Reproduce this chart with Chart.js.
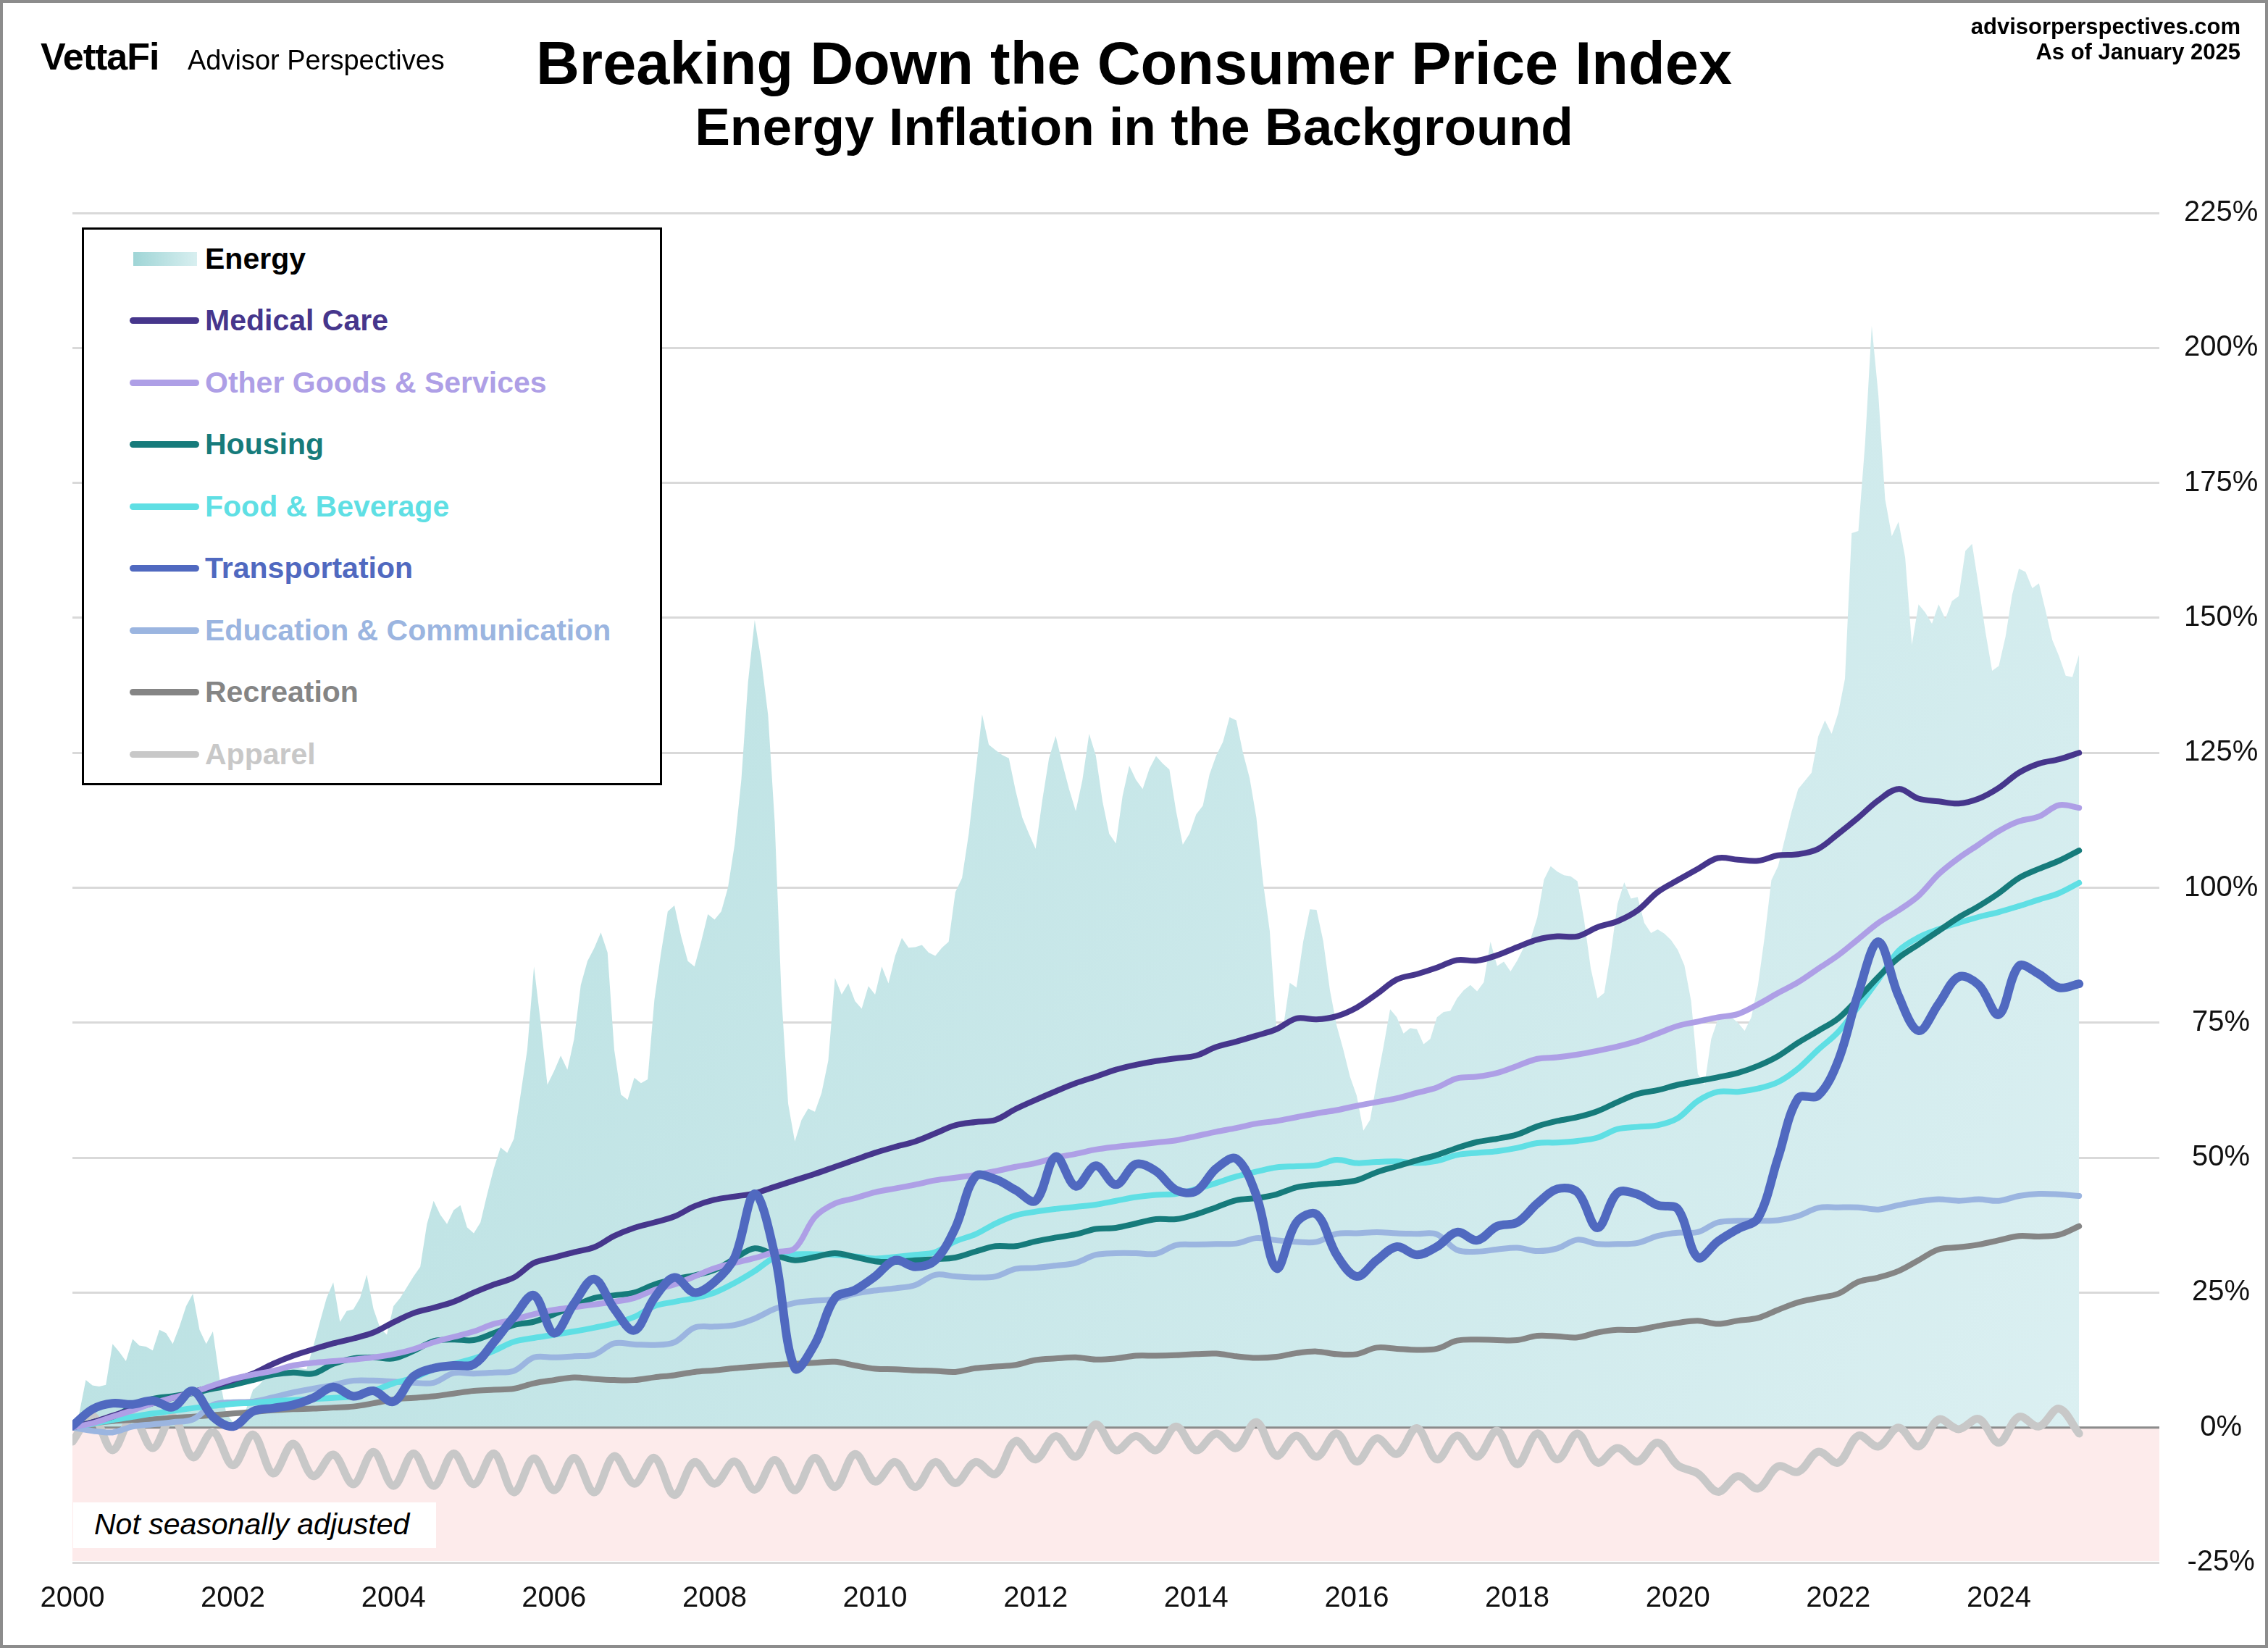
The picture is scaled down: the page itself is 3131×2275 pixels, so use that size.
<!DOCTYPE html>
<html>
<head>
<meta charset="utf-8">
<title>Breaking Down the Consumer Price Index</title>
<script src="https://cdn.jsdelivr.net/npm/chart.js@4.4.1/dist/chart.umd.min.js"></script>
<style>
  body { margin: 0; background: #fff; font-family: "Liberation Sans", Arial, sans-serif; color: #000; }
  #page { position: relative; width: 3131px; height: 2275px; overflow: hidden; background: #fff; }
  #cpiChart { position: absolute; left: 0; top: 0; }
  .abs { position: absolute; white-space: nowrap; line-height: 1; }
  .frame { position: absolute; left: 0; top: 0; right: 0; bottom: 0; border: 4px solid #8c8c8c; pointer-events: none; }
  .logo { left: 56px; top: 52px; font-size: 52px; font-weight: bold; letter-spacing: -1px; }
  .brand { left: 259px; top: 64px; font-size: 38px; }
  .title { left: 0; width: 3131px; text-align: center; top: 46px; font-size: 83px; font-weight: bold; }
  .subtitle { left: 0; width: 3131px; text-align: center; top: 138px; font-size: 73px; font-weight: bold; }
  .site { right: 38px; font-size: 31px; font-weight: bold; text-align: right; }
  #legendBox { position: absolute; left: 113px; top: 314px; width: 801px; height: 770px; border: 3px solid #000; box-sizing: border-box; background: #fff; }
  .legend-row { position: absolute; left: 179px; height: 41px; }
  .legend-line { position: absolute; left: 0; top: 16px; width: 96px; height: 9px; border-radius: 5px; }
  .legend-area { position: absolute; left: 5px; top: 11px; width: 88px; height: 19px; background: linear-gradient(to right, #9fd5d6, #d8eff0); }
  .legend-text { position: absolute; left: 104px; top: 0; font-size: 41px; font-weight: bold; line-height: 41px; white-space: nowrap; }
  .nsa { position: absolute; left: 101px; top: 2074px; width: 501px; height: 63px; background: #fff; }
  .nsa span { position: absolute; left: 29px; top: 10px; font-size: 41px; font-style: italic; line-height: 1; white-space: nowrap; }
</style>
</head>
<body>
<div id="page">
  <canvas id="cpiChart" width="3131" height="2275"></canvas>
  <div class="abs logo">VettaFi</div>
  <div class="abs brand">Advisor Perspectives</div>
  <div class="abs title">Breaking Down the Consumer Price Index</div>
  <div class="abs subtitle">Energy Inflation in the Background</div>
  <div class="abs site" style="top:21px">advisorperspectives.com</div>
  <div class="abs site" style="top:56px">As of January 2025</div>
  <div id="legendBox"></div>
  <div class="nsa"><span>Not seasonally adjusted</span></div>
  <div class="frame"></div>
</div>

<script>
// ================= DATA =================
// cumulative change since Jan 2000, in %
// energy is monthly (Jan 2000 .. Jan 2025), the other series quarterly
const START_YEAR = 2000;

const energy = [
  0.6, 2.5, 8.8, 7.8, 7.6, 7.9, 15.5, 14.0, 12.3, 16.4, 15.2, 15.0,
  14.3, 18.1, 17.5, 15.5, 18.7, 22.5, 24.8, 18.1, 15.5, 17.8, 9.1, 2.6,
  1.0, 1.5, 3.5, 7.0, 8.0, 9.5, 10.5, 9.5, 10.5, 11.4, 11.0, 10.8,
  15.0, 19.6, 24.0, 26.9, 19.6, 21.6, 21.9, 24.0, 28.3, 22.0, 18.4, 17.2,
  22.5, 24.0, 26.0, 28.0, 29.8, 37.7, 42.0, 39.4, 37.7, 40.3, 41.2, 37.1,
  36.0, 38.0, 43.2, 48.0, 51.9, 50.9, 53.5, 61.7, 70.0, 85.4, 75.0, 63.5,
  66.0, 68.9, 66.3, 72.0, 82.0, 86.4, 88.8, 91.7, 88.0, 70.0, 61.7, 60.7,
  64.8, 63.8, 64.5, 79.2, 88.0, 95.6, 96.7, 91.0, 86.4, 85.4, 90.0, 95.1,
  94.1, 95.6, 100.0, 108.0, 120.0, 138.0, 149.6, 142.0, 132.0, 112.0, 80.0, 60.0,
  53.0, 57.0, 59.1, 58.5, 62.0, 68.0, 83.3, 80.2, 82.3, 79.0, 77.6, 81.8,
  80.2, 85.4, 82.3, 87.4, 90.7, 88.9, 89.0, 89.4, 88.0, 87.4, 88.9, 90.0,
  99.2, 101.8, 110.0, 121.0, 132.1, 126.5, 125.5, 124.6, 124.0, 118.0, 113.0, 110.0,
  107.2, 116.2, 124.0, 128.1, 123.0, 118.3, 114.2, 120.0, 128.5, 124.5, 116.0, 110.0,
  108.2, 117.0, 122.6, 120.0, 118.3, 122.0, 124.4, 123.0, 121.9, 114.2, 108.0, 110.0,
  113.6, 115.2, 121.0, 124.5, 127.0, 131.6, 131.0, 125.0, 120.3, 113.0, 101.0, 92.0,
  74.0, 74.0, 82.4, 81.5, 90.0, 96.0, 95.9, 90.1, 81.0, 74.5, 70.0, 65.0,
  61.5, 55.0, 57.0, 64.0, 70.5, 77.5, 76.0, 73.0, 74.0, 73.8, 71.0, 72.0,
  76.0, 77.0, 77.2, 79.5, 81.0, 82.0, 80.8, 82.5, 90.0, 85.5, 86.3, 84.5,
  86.5, 89.0, 90.5, 94.5, 101.5, 104.0, 103.0, 102.3, 102.1, 101.2, 94.0, 85.0,
  79.5, 80.5, 88.0, 97.0, 101.0, 98.0, 98.3, 93.5, 91.6, 92.3, 91.5, 90.3,
  88.5, 85.6, 79.0, 65.5, 63.5, 72.0, 75.6, 76.1, 76.0, 75.0, 73.5, 76.0,
  82.0, 91.0, 101.4, 104.0, 109.0, 114.0, 118.3, 119.8, 121.3, 128.0, 131.0, 128.5,
  132.4, 138.7, 165.7, 166.1, 182.2, 204.1, 191.2, 172.0, 165.1, 167.8, 161.2, 145.0,
  152.5, 151.0, 148.9, 152.5, 149.8, 153.1, 154.0, 162.4, 163.7, 155.8, 147.4, 140.2,
  141.1, 146.5, 154.3, 159.1, 158.5, 155.5, 156.4, 151.3, 145.9, 142.9, 139.3, 139.0,
  143.2
];

const medicalCare = [
  0, 1.0, 2.2, 3.4,  4.5, 5.5, 6.6, 7.6,  8.8, 10.0, 11.8, 13.3,  14.5, 15.6, 16.5, 17.6,
  19.5, 21.2, 22.2, 23.3,  25.0, 26.5, 27.8, 30.5,  31.5, 32.5, 33.4, 35.5,  37.0, 38.0, 39.1, 41.0,
  42.2, 42.8, 43.4, 44.6,  45.8, 47.0, 48.3, 49.6,  50.9, 52.0, 53.0, 54.5,  56.0, 56.6, 57.0, 59.0,
  60.7, 62.3, 63.8, 65.0,  66.3, 67.2, 67.9, 68.4,  68.9, 70.5, 71.5, 72.6,  73.8, 75.8, 75.6, 76.2,
  77.8, 80.3, 83.0, 84.0,  85.2, 86.6, 86.5, 87.5,  89.0, 90.4, 91.0, 91.0,  92.7, 93.8, 95.8, 99.2,
  101.4, 103.5, 105.5, 105.2,  105.0, 106.0, 106.2, 107.2,  110.0, 113.0, 116.2, 118.3,
  116.5, 116.0, 115.6, 116.5,  118.5, 121.3, 123.0, 123.8,  125.0
];

const otherGoods = [
  0, 0.8, 2.0, 3.2,  4.5, 5.5, 6.5, 7.8,  9.0, 9.8, 10.5, 11.5,  12.0, 12.3, 12.6, 13.0,
  13.6, 14.5, 15.8, 16.8,  17.8, 19.2, 20.0, 21.0,  21.8, 22.3, 22.8, 23.3,  24.0, 25.5, 26.5, 28.0,
  29.5, 30.5, 31.4, 32.5,  33.2, 39.0, 41.5, 42.5,  43.6, 44.3, 45.0, 45.8,  46.3, 46.8, 47.5, 48.3,
  49.0, 50.0, 50.7, 51.5,  52.0, 52.4, 52.8, 53.2,  54.0, 54.8, 55.5, 56.3,  56.8, 57.5, 58.2, 58.8,
  59.6, 60.3, 61.0, 62.0,  63.0, 64.7, 65.0, 65.7,  67.0, 68.3, 68.6, 69.1,  69.8, 70.6, 71.6, 73.0,
  74.4, 75.2, 76.0, 76.6,  78.4, 80.5, 82.5, 85.0,  87.5, 90.5, 93.5, 95.8,
  98.5, 102.5, 105.5, 108.0,  110.5, 112.3, 113.2, 115.3,  114.8
];

const housing = [
  0, 1.0, 2.0, 3.8,  5.3, 5.8, 6.4, 7.2,  7.9, 8.8, 9.8, 10.2,  10.0, 11.8, 12.8, 13.0,
  12.8, 14.2, 16.0, 16.3,  16.2, 17.5, 19.0, 19.6,  21.0, 22.5, 24.0, 24.5,  25.0, 26.5, 27.5, 28.2,
  29.2, 31.3, 33.2, 32.0,  31.0, 31.6, 32.3, 31.6,  30.8, 30.7, 31.0, 31.2,  31.5, 32.6, 33.6, 33.6,
  34.5, 35.2, 35.8, 36.8,  37.0, 37.8, 38.6, 38.6,  39.5, 40.8, 42.1, 42.5,  43.2, 44.5, 45.0, 45.3,
  45.8, 47.3, 48.4, 49.5,  50.5, 51.8, 52.9, 53.5,  54.3, 55.8, 56.8, 57.5,  58.6, 60.3, 61.8, 62.5,
  63.5, 64.2, 64.9, 65.7,  67.0, 68.8, 71.3, 73.5,  75.8, 79.5, 83.5, 87.0,
  89.5, 92.0, 94.5, 96.6,  99.0, 101.8, 103.5, 105.0,  106.9
];

const foodBeverage = [
  0, 0.7, 1.4, 2.0,  2.6, 3.1, 3.6, 4.0,  4.4, 4.6, 4.9, 5.1,  5.3, 5.5, 5.8, 6.8,
  8.2, 9.2, 10.8, 11.8,  12.8, 14.2, 15.9, 16.6,  17.2, 17.8, 18.5, 19.3,  20.5, 22.5, 23.3, 24.0,
  25.0, 26.8, 29.0, 31.5,  32.1, 32.1, 32.0, 31.7,  31.3, 31.6, 32.0, 32.5,  34.5, 35.8, 37.8, 39.3,
  40.0, 40.5, 40.9, 41.3,  42.0, 42.7, 43.1, 43.3,  44.2, 45.3, 46.5, 47.4,  48.2, 48.4, 48.6, 49.6,
  49.0, 49.2, 49.3, 49.0,  49.4, 50.5, 50.9, 51.2,  51.8, 52.7, 52.8, 53.1,  53.7, 55.3, 55.7, 56.0,
  57.3, 60.5, 62.2, 62.2,  62.8, 64.0, 66.5, 70.0,  73.3, 78.0, 83.0, 88.3,
  90.8, 92.3, 93.5, 94.6,  95.5, 96.6, 97.8, 99.0,  100.9
];

const transportation = [
  0.3, 3.4, 4.5, 4.3,  5.0, 3.8, 6.8, 2.0,  0.2, 3.0, 3.6, 4.2,  5.5, 7.5, 5.8, 6.8,
  4.8, 9.5, 11.0, 11.5,  11.7, 15.8, 20.5, 24.5,  17.5, 23.0, 27.5, 22.0,  18.0, 24.0, 27.8, 25.0,
  27.0, 31.5, 43.3, 32.0,  11.0, 15.5, 24.0, 25.5,  28.0, 31.0, 29.8, 31.0,  37.0, 46.5, 46.0, 44.0,
  42.0, 50.2, 44.7, 48.5,  45.0, 48.8, 47.5, 44.0,  43.8, 48.0, 49.8, 43.0,  29.5, 38.0, 39.5, 32.0,
  28.0, 31.0, 33.5, 32.0,  33.5, 36.2, 34.7, 37.3,  38.0, 41.5, 44.2, 43.6,  37.0, 43.5, 43.2, 41.2,
  40.5, 31.5, 34.5, 36.8,  38.8, 50.0, 61.0, 61.5,  68.0, 80.5, 90.0, 80.0,
  73.5, 78.5, 83.5, 82.0,  76.5, 85.5, 84.0, 81.5,  82.2
];

const educationComm = [
  0, -0.6, -0.9, 0.2,  0.6, 1.0, 1.5, 4.2,  4.7, 4.8, 5.6, 6.5,  7.2, 7.9, 8.7, 8.7,
  8.5, 8.3, 8.3, 10.1,  10.0, 10.2, 10.5, 13.0,  13.0, 13.2, 13.5, 15.6,  15.4, 15.3, 15.8, 18.5,
  18.7, 19.0, 20.2, 22.0,  23.1, 23.5, 23.8, 24.8,  25.4, 25.8, 26.4, 28.3,  28.0, 27.8, 28.0, 29.4,
  29.6, 30.0, 30.5, 32.0,  32.3, 32.3, 32.2, 33.8,  33.9, 34.0, 34.1, 35.1,  34.7, 34.4, 34.4, 35.9,
  36.0, 36.2, 36.0, 35.9,  35.8, 32.9, 32.6, 33.0,  33.3, 32.7, 33.2, 34.8,  34.0, 34.0, 34.2, 35.5,
  36.1, 36.2, 38.0, 38.3,  38.3, 38.4, 39.2, 40.7,  40.8, 40.8, 40.4, 41.2,
  41.9, 42.3, 42.0, 42.3,  42.0, 42.9, 43.3, 43.2,  42.9
];

const recreation = [
  0.3, 0.8, 1.2, 1.4,  1.5, 1.8, 2.0, 2.3,  2.6, 2.9, 3.2, 3.4,  3.5, 3.7, 3.9, 4.5,
  5.2, 5.5, 5.8, 6.3,  6.8, 7.0, 7.2, 8.2,  8.8, 9.3, 9.0, 8.8,  8.8, 9.3, 9.7, 10.3,
  10.6, 11.0, 11.3, 11.6,  11.8, 12.0, 12.2, 11.5,  10.9, 10.8, 10.6, 10.5,  10.3, 11.0, 11.3, 11.6,
  12.5, 12.8, 13.0, 12.6,  12.8, 13.3, 13.3, 13.4,  13.6, 13.7, 13.2, 12.9,  13.1, 13.8, 14.1, 13.6,
  13.6, 14.8, 14.6, 14.4,  14.6, 16.1, 16.3, 16.2,  16.2, 17.0, 16.9, 16.7,  17.6, 18.1, 18.1, 18.8,
  19.4, 19.8, 19.2, 19.8,  20.3, 21.8, 23.2, 24.0,  24.8, 27.0, 27.8, 29.0,
  31.0, 33.0, 33.4, 33.9,  34.7, 35.5, 35.4, 35.7,  37.3
];

const apparel = [
  -2.6, 2.2, -4.2, 2.0,  -3.8, 2.0, -5.5, -0.8,  -7.0, -1.3, -8.5, -3.0,  -9.0, -5.0, -10.5, -4.5,
  -10.8, -4.8, -10.8, -4.8,  -10.5, -4.8, -12.0, -5.7,  -11.6, -5.6, -12.0, -5.3,  -10.4, -5.6, -12.5, -6.4,
  -10.4, -6.3, -11.5, -6.0,  -11.6, -5.6, -11.0, -4.9,  -10.0, -6.4, -11.0, -6.4,  -10.3, -6.4, -8.6, -2.5,
  -5.9, -1.6, -5.4, 0.6,  -4.2, -1.6, -4.2, 0.2,  -4.2, -1.1, -3.8, 1.0,  -5.2, -1.5, -5.4, -1.1,
  -6.3, -2.0, -4.9, -0.1,  -5.9, -1.5, -5.4, -0.6,  -6.8, -1.1, -5.9, -1.1,  -6.5, -3.8, -6.3, -2.8,
  -7.0, -8.5, -11.9, -9.0,  -11.3, -7.2, -8.2, -4.5,  -6.5, -1.5, -3.5, 0.0,
  -3.5, 1.5, -0.3, 1.6,  -2.8, 2.0, 0.2, 3.5,  -1.1
];

const seriesNames = ["Energy", "Medical Care", "Other Goods & Services", "Housing", "Food & Beverage",
  "Transportation", "Education & Communication", "Recreation", "Apparel"];
const seriesColors = ["#000000", "#46368c", "#ae9fe6", "#167b7b", "#5fdfe4",
  "#5069c0", "#9bb5e0", "#858585", "#c8c8c8"];

const yTicks = { min: -25, max: 225, step: 25 };
const xTicks = { min: 2000, max: 2026, step: 2 };

// ================= HELPERS =================
const FONT = '"Liberation Sans", Arial, sans-serif';

function monthly(values) {
  return values.map((v, i) => ({ x: START_YEAR + i / 12, y: v }));
}
function quarterly(values) {
  return values.map((v, i) => ({ x: START_YEAR + i / 4, y: v }));
}

function lineSet(idx, values, width, order) {
  return {
    label: seriesNames[idx],
    data: quarterly(values),
    borderColor: seriesColors[idx],
    borderWidth: width,
    tension: 0.35,
    fill: false,
    pointRadius: 0,
    borderCapStyle: "round",
    borderJoinStyle: "round",
    order
  };
}

// ===== energy fill: soft teal, lighter toward the bottom right =====
function energyFill(context) {
  const { ctx, chartArea, scales } = context.chart;
  if (!chartArea) return "#c4e6e7";
  const zero = scales.y.getPixelForValue(0);
  const g = ctx.createLinearGradient(chartArea.left, chartArea.top, chartArea.right, zero);
  g.addColorStop(0, "#b3dedf");
  g.addColorStop(1, "#dcf0f2");
  return g;
}

// ===== pink band below zero + zero line over the energy area =====
const bandPlugin = {
  id: "deflationBand",
  beforeDatasetsDraw(chart) {
    const { ctx, chartArea, scales: { y } } = chart;
    const top = y.getPixelForValue(0);
    const bottom = y.getPixelForValue(yTicks.min) - 2;
    ctx.save();
    ctx.fillStyle = "#fdebeb";
    ctx.fillRect(chartArea.left, top, chartArea.right - chartArea.left, bottom - top);
    ctx.restore();
  },
  afterDatasetDraw(chart, args) {
    if (args.index !== 0) return;
    const { ctx, chartArea, scales: { y } } = chart;
    const zero = y.getPixelForValue(0);
    ctx.save();
    ctx.strokeStyle = "#8c8c8c";
    ctx.lineWidth = 3;
    ctx.beginPath();
    ctx.moveTo(chartArea.left, zero);
    ctx.lineTo(chartArea.right, zero);
    ctx.stroke();
    ctx.restore();
  }
};

// ================= CHART =================
Chart.defaults.font.family = FONT;
Chart.defaults.color = "#111";

new Chart(document.getElementById("cpiChart"), {
  type: "line",
  data: {
    datasets: [
      {
        label: seriesNames[0],
        data: monthly(energy),
        fill: "origin",
        backgroundColor: energyFill,
        borderWidth: 0,
        pointRadius: 0,
        tension: 0,
        order: 20
      },
      lineSet(1, medicalCare, 8, 5),
      lineSet(2, otherGoods, 8, 4),
      lineSet(3, housing, 8, 6),
      lineSet(4, foodBeverage, 8, 7),
      lineSet(5, transportation, 12, 1),
      lineSet(6, educationComm, 8, 8),
      lineSet(7, recreation, 8, 9),
      lineSet(8, apparel, 11, 10)
    ]
  },
  options: {
    responsive: false,
    animation: false,
    devicePixelRatio: 1,
    layout: { padding: { left: 100, top: 294, right: 0, bottom: 0 } },
    plugins: { legend: { display: false }, tooltip: { enabled: false } },
    scales: {
      x: {
        type: "linear",
        min: xTicks.min,
        max: xTicks.max,
        grid: { display: false },
        border: { display: false },
        ticks: {
          stepSize: xTicks.step,
          autoSkip: false,
          maxRotation: 0,
          padding: 18,
          font: { size: 40 },
          color: "#111",
          callback: v => (v < xTicks.max ? String(v) : "")
        },
        afterFit: s => { s.height = 118; }
      },
      y: {
        position: "right",
        min: yTicks.min,
        max: yTicks.max,
        grid: { color: "#d9d9d9", lineWidth: 3, drawTicks: false },
        border: { display: false },
        ticks: {
          stepSize: yTicks.step,
          crossAlign: "center",
          padding: 34,
          font: { size: 40 },
          color: "#111",
          callback: v => v + "%"
        },
        afterFit: s => { s.width = 150; }
      }
    }
  },
  plugins: [bandPlugin]
});

// ================= LEGEND =================
const page = document.getElementById("page");
const legendFirst = 357;
const legendStep = 85.5;

seriesNames.forEach((name, i) => {
  const row = document.createElement("div");
  row.className = "legend-row";
  row.style.top = (legendFirst + i * legendStep - 20.5) + "px";

  const mark = document.createElement("div");
  if (i === 0) {
    mark.className = "legend-area";
  } else {
    mark.className = "legend-line";
    mark.style.background = seriesColors[i];
  }
  row.appendChild(mark);

  const text = document.createElement("div");
  text.className = "legend-text";
  text.style.color = seriesColors[i];
  text.textContent = name;
  row.appendChild(text);

  page.insertBefore(row, document.querySelector(".nsa"));
});
</script>
</body>
</html>
